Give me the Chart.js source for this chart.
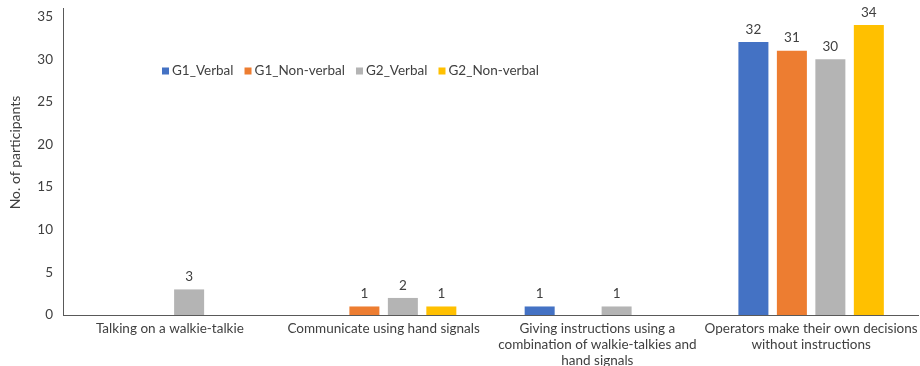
<!DOCTYPE html>
<html>
<head>
<meta charset="utf-8">
<script src="https://cdn.jsdelivr.net/npm/chart.js@4"></script>
<style>
  html, body { margin: 0; padding: 0; background: #fff; }
  #wrap { width: 920px; height: 366px; }
</style>
</head>
<body>
<div id="wrap"><canvas id="chart" width="920" height="366"></canvas></div>
<script>
const categories = [
    'Talking on a walkie-talkie',
    'Communicate using hand signals',
    ['Giving instructions using a', 'combination of walkie-talkies and', 'hand signals'],
    ['Operators make their own decisions', 'without instructions']
];
const seriesNames = ['G1_Verbal', 'G1_Non-verbal', 'G2_Verbal', 'G2_Non-verbal'];
const g1Verbal = [0, 0, 1, 32];
const g1NonVerbal = [0, 1, 0, 31];
const g2Verbal = [3, 2, 1, 30];
const g2NonVerbal = [0, 1, 0, 34];
const yTicks = [0, 5, 10, 15, 20, 25, 30, 35];
const colors = ['#4472C4', '#ED7D31', '#B4B4B4', '#FFC000'];

const FONT = 'Lato, "Noto Sans", sans-serif';

// value labels above non-zero bars
const valueLabels = {
    id: 'valueLabels',
    afterDatasetsDraw(chart) {
        const ctx = chart.ctx;
        ctx.save();
        ctx.font = '13.5px ' + FONT;
        ctx.fillStyle = '#404040';
        ctx.textAlign = 'center';
        ctx.textBaseline = 'bottom';
        chart.data.datasets.forEach((ds, i) => {
            chart.getDatasetMeta(i).data.forEach((bar, j) => {
                if (ds.data[j] > 0) ctx.fillText(ds.data[j], bar.x, bar.y - 6);
            });
        });
        ctx.restore();
    }
};

// legend drawn inside the plot area
const insideLegend = {
    id: 'insideLegend',
    afterDraw(chart) {
        const ctx = chart.ctx;
        const a = chart.chartArea;
        ctx.save();
        ctx.font = '13.5px ' + FONT;
        ctx.textBaseline = 'middle';
        let x = a.left + 99;
        const y = 71;
        chart.data.datasets.forEach(ds => {
            ctx.fillStyle = ds.backgroundColor;
            ctx.fillRect(x, y - 3.5, 7, 7);
            ctx.fillStyle = '#404040';
            ctx.fillText(ds.label, x + 10, y);
            x += 10 + ctx.measureText(ds.label).width + 11;
        });
        ctx.restore();
    }
};

// y title is drawn a bit above the plot centre, as in the original
const yTitle = {
    id: 'yTitle',
    afterDraw(chart) {
        const ctx = chart.ctx;
        const a = chart.chartArea;
        ctx.save();
        ctx.font = '14px ' + FONT;
        ctx.fillStyle = '#404040';
        ctx.textAlign = 'center';
        ctx.textBaseline = 'middle';
        ctx.translate(15, (a.top + a.bottom) / 2 - 9);
        ctx.rotate(-Math.PI / 2);
        ctx.fillText('No. of participants', 0, 0);
        ctx.restore();
    }
};

const values = [g1Verbal, g1NonVerbal, g2Verbal, g2NonVerbal];

new Chart(document.getElementById('chart').getContext('2d'), {
    type: 'bar',
    data: {
        labels: categories,
        datasets: seriesNames.map((name, i) => ({
            label: name,
            data: values[i],
            backgroundColor: colors[i],
            borderWidth: 0,
            categoryPercentage: 0.72,
            barPercentage: 0.78
        }))
    },
    options: {
        responsive: false,
        animation: false,
        layout: { padding: { top: 0, right: 2, left: 0, bottom: 0 } },
        scales: {
            x: {
                grid: { display: false, drawTicks: false },
                border: { display: true, color: '#595959', width: 1 },
                ticks: {
                    color: '#404040',
                    font: { family: FONT, size: 13.5, lineHeight: 1.18 },
                    padding: 6,
                    maxRotation: 0,
                    autoSkip: false
                },
                afterFit(scale) {
                    scale.height = 51;
                    scale.paddingLeft = 0;
                    scale.paddingRight = 0;
                }
            },
            y: {
                min: 0,
                max: 36,
                grid: { display: false, drawTicks: false },
                border: { display: true, color: '#595959', width: 1 },
                ticks: {
                    color: '#404040',
                    font: { family: FONT, size: 13.5 },
                    padding: 10
                },
                afterBuildTicks(scale) {
                    scale.ticks = yTicks.map(v => ({ value: v }));
                },
                afterFit(scale) {
                    scale.width = 63;
                    scale.paddingTop = 8;
                    scale.paddingBottom = 0;
                }
            }
        },
        plugins: {
            legend: { display: false },
            tooltip: { enabled: false }
        }
    },
    plugins: [valueLabels, insideLegend, yTitle]
});
</script>
</body>
</html>
